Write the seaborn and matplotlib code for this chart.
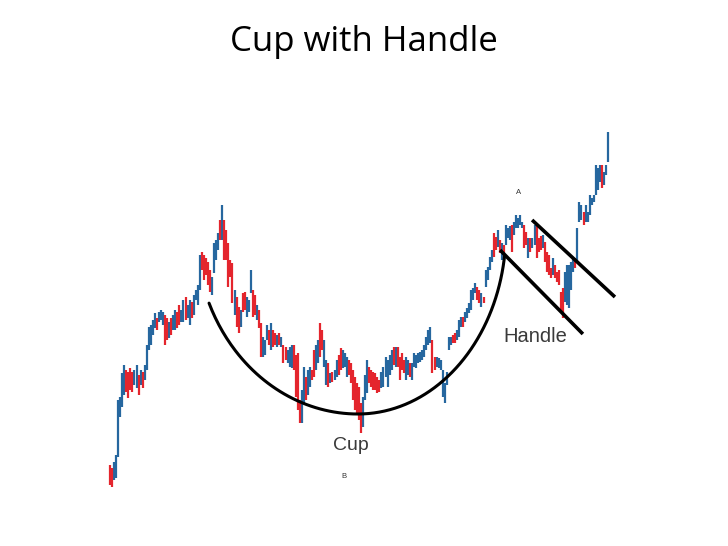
import numpy as np
import pandas as pd
import matplotlib
matplotlib.use("Agg")
import matplotlib.pyplot as plt
import seaborn as sns

# ---------------- data (price units, one entry per trading bar) ----------------
highs = [35, 32, 38, 45, 100, 103, 127, 135, 130, 128, 132, 128, 130, 135, 125, 130, 128, 135,
         155, 173, 175, 180, 187, 182, 188, 190, 188, 185, 182, 178, 182, 185, 190, 188, 195, 190,
         200, 203, 195, 200, 198, 205, 210, 215,
         245, 248, 245, 242, 238, 230, 223, 257, 260, 267, 280, 295, 280, 270, 257, 240, 237, 210,
         203, 193, 190, 207, 208, 203, 200, 230, 210, 205, 195, 190, 177, 163, 160, 175, 170, 177,
         170, 167, 165, 167, 163, 155, 153, 150, 153, 155, 155, 145, 147, 100, 110, 133,
         123, 130, 133, 130, 150, 155, 160, 177, 170, 160, 140, 137, 127, 128, 130, 140, 145, 152,
         150, 147, 143, 140, 137, 130, 123, 117, 113, 97, 103, 125, 140, 133, 130, 128, 127, 123,
         120, 128, 133, 143, 140, 145, 150, 153, 153, 153, 143, 147, 140,
         143, 140, 137, 137, 147, 145, 147, 148, 150, 155, 163, 170, 173, 160, 143, 143, 142, 140,
         130, 117, 128, 163, 163, 165, 167, 170, 180, 183, 183, 188, 192, 197, 210, 212, 217, 213,
         210, 207, 203, 230, 233, 243, 250, 267, 263, 270, 260, 257,
         255, 275, 272, 274, 275, 278, 285, 282, 285, 278, 275, 268, 262, 262, 262, 275, 275, 262,
         264, 265, 258, 248, 245, 232, 242, 235, 228, 230, 208, 212, 228, 235, 235, 238, 242, 242,
         272, 298, 295, 288, 295, 288, 305, 302, 305, 335, 332, 335, 335, 328, 335, 368]
lows = [15, 13, 20, 22, 43, 83, 93, 105, 108, 102, 110, 108, 115, 112, 105, 115, 112, 120,
        130, 150, 155, 165, 172, 170, 178, 180, 175, 155, 160, 162, 165, 170, 170, 172, 175, 178,
        178, 180, 182, 175, 182, 185, 200, 195,
        210, 230, 220, 225, 215, 208, 205, 227, 240, 250, 260, 260, 240, 240, 213, 223, 197, 185,
        173, 167, 173, 188, 190, 183, 188, 207, 183, 185, 180, 172, 143, 143, 145, 160, 155, 150,
        153, 155, 153, 155, 153, 137, 140, 137, 133, 132, 130, 103, 90, 77, 77, 97,
        100, 105, 113, 120, 123, 130, 137, 143, 150, 133, 115, 113, 117, 118, 120, 123, 125, 130,
        132, 133, 123, 125, 117, 100, 90, 85, 80, 67, 73, 100, 107, 117, 113, 110, 110, 107,
        108, 112, 113, 123, 113, 125, 130, 135, 133, 133, 120, 130, 127,
        120, 125, 123, 120, 133, 132, 137, 138, 140, 143, 150, 155, 157, 127, 130, 133, 132, 130,
        103, 97, 115, 150, 155, 157, 157, 160, 163, 173, 173, 178, 182, 187, 190, 200, 207, 200,
        197, 193, 197, 213, 220, 230, 238, 243, 250, 253, 247, 240,
        242, 255, 262, 260, 248, 265, 272, 272, 275, 272, 252, 255, 242, 248, 252, 255, 242, 248,
        250, 252, 238, 228, 225, 222, 225, 222, 218, 215, 188, 182, 198, 195, 192, 210, 228, 232,
        238, 278, 280, 275, 278, 278, 285, 295, 298, 305, 310, 318, 312, 315, 325, 338]
# bar colour: "b" = up bar (blue), "r" = down bar (red)
trend = list(
    "rrbbbbbb" "rrrr" "bb" "rbr" "bbbbbb" "r" "bbb" "rr" "b" "r" "bb" "rr" "bb" "r" "bb" "r" "bbb"
    "b" "rrrrr" "bbbb" "r" "b" "rrrrr" "b" "rr" "b" "rr" "bbb" "rr" "b" "rr" "bbb" "r" "b" "rr"
    "b" "r" "b" "rr" "bbb" "rrrr" "bb"
    "r" "bb" "rr" "bb" "rr" "bb" "r" "b" "r" "bb" "rr" "bbb" "rrrrrrr" "bbb" "rrrrrr" "bbbbbb"
    "r" "b" "rrrr"
    "bb" "r" "bbbbbbbbbb" "rr" "bbbbbbbb" "rr" "bbb" "r" "bbbbbb" "rr" "b" "r" "bbbb" "rr" "b" "r" "b"
    "r" "bbb" "r" "bbbbb" "rr" "b" "r" "bb" "rrr" "b" "rrrr" "b" "rrrrr" "bbbbb" "r" "bbb" "r"
    "bbbbbbbb" "r" "bbb")

n = min(len(highs), len(lows), len(trend))
df = pd.DataFrame({"day": np.arange(n), "high": highs[:n], "low": lows[:n], "trend": trend[:n]})

# annotation geometry in data units (day index, price)
cup_day, cup_price, cup_depth = 121.5, 86.0, 183.0
cup_half_left, cup_half_right = 79.4, 72.5
handle_lines = [((191.1, 250.0), (231.7, 166.0)), ((206.8, 280.0), (247.4, 203.0))]
labels = [("Cup", 118.1, 55.0, 14), ("Handle", 208.2, 164.0, 14.5)]
markers = [("A", 200.4, 307.0), ("B", 114.6, 24.0)]

# ---------------- drawing ----------------
sns.set_theme(style="white")
plt.rcParams["font.family"] = ["Liberation Sans", "DejaVu Sans"]

W, H, DPI = 728, 546, 100
fig = plt.figure(figsize=(W / DPI, H / DPI), dpi=DPI)
fig.patch.set_facecolor("white")

step = 498.0 / (n - 1)
ax = fig.add_axes([100 / W, 46 / H, 528 / W, 380 / H])
ax.set_xlim(-10 / step, (n - 1) + 20 / step)
ax.set_ylim(0, 380)
ax.axis("off")

palette = {"b": "#26679f", "r": "#e4252d"}
for key, grp in df.groupby("trend"):
    ax.vlines(grp["day"], grp["low"], grp["high"], color=palette[key], linewidth=1.6)

# cup arc (two quarter ellipses)
phi_l = np.linspace(np.arcsin(min(1.0, 72.97 / cup_half_left)), 0, 80)
phi_r = np.linspace(0, np.arcsin(min(1.0, 71.8 / cup_half_right)), 80)
ax_l = cup_day - cup_half_left * np.sin(phi_l)
ay_l = cup_price + cup_depth * (1 - np.cos(phi_l))
ax_r = cup_day + cup_half_right * np.sin(phi_r)
ay_r = cup_price + cup_depth * (1 - np.cos(phi_r))
sns.lineplot(x=np.r_[ax_l, ax_r], y=np.r_[ay_l, ay_r], sort=False, ax=ax,
             color="black", linewidth=2.2, estimator=None)

for (x0, y0), (x1, y1) in handle_lines:
    ax.plot([x0, x1], [y0, y1], color="black", linewidth=2.6, solid_capstyle="butt")

for txt, x, y, fs in labels:
    ax.text(x, y, txt, ha="center", va="center", fontsize=fs, color="#3a3a3a")
for txt, x, y in markers:
    ax.text(x, y, txt, ha="center", va="center", fontsize=5.5, color="#333333")

fig.text(364 / W, 1 - 42 / H, "Cup with Handle", ha="center", va="center",
         fontsize=25, color="black", family=["Open Sans", "DejaVu Sans"])

fig.savefig("out.png", dpi=DPI, facecolor="white")
